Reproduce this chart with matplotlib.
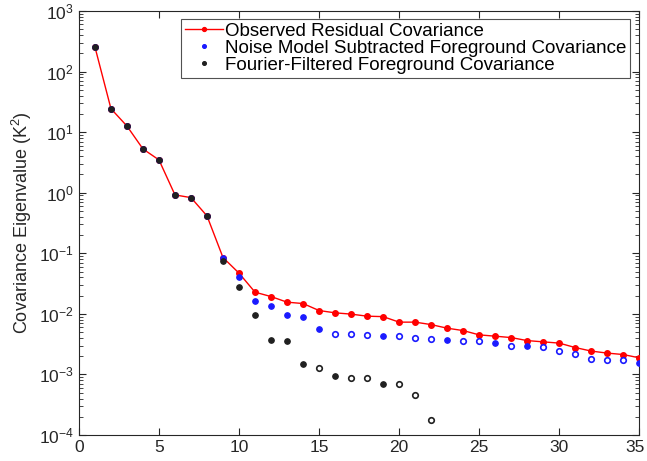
import numpy as np
import matplotlib
matplotlib.use("Agg")
import matplotlib.pyplot as plt
import matplotlib.transforms as mtransforms

plt.rcParams['font.family'] = ['Liberation Sans', 'DejaVu Sans']
plt.rcParams['mathtext.fontset'] = 'custom'
plt.rcParams['mathtext.rm'] = 'Liberation Sans'
plt.rcParams['mathtext.it'] = 'Liberation Sans:italic'
plt.rcParams['mathtext.bf'] = 'Liberation Sans:bold'

# Eigenvalue index
idx_obs = list(range(1, 36))
idx_noise = list(range(1, 36))
idx_fourier = list(range(1, 23))

# Observed residual covariance eigenvalues (K^2)
observed = [255, 24.4, 12.6, 5.28, 3.48, 0.92, 0.83, 0.414, 0.085, 0.047,
            0.0228, 0.0193, 0.0156, 0.0148, 0.01135, 0.0104, 0.0099, 0.00916, 0.0090, 0.0073,
            0.0073, 0.00665, 0.0058, 0.0053, 0.0045, 0.00428, 0.00406, 0.00362, 0.00345, 0.00329,
            0.00278, 0.00243, 0.00225, 0.00213, 0.00188]

# Noise-model-subtracted foreground covariance (negative values plotted as open circles)
noise_sub = [255, 24.4, 12.6, 5.28, 3.48, 0.90, 0.83, 0.41, 0.084, 0.040,
             0.0162, 0.0134, 0.00953, 0.0090, 0.0056, -0.00462, -0.00462, -0.00445, 0.00429, -0.00426,
             -0.00406, -0.00387, 0.00368, -0.00355, -0.00358, 0.00329, -0.00297, 0.00297, -0.00285, -0.00248,
             -0.00219, -0.00183, -0.00170, -0.00170, 0.00155]

# Fourier-filtered foreground covariance (negative values plotted as open circles)
fourier = [255, 24.4, 12.6, 5.28, 3.48, 0.92, 0.83, 0.41, 0.075, 0.028,
           0.0094, 0.00372, 0.00358, 0.00148, -0.0013, 0.00095, -0.00088, -0.00088, 0.0007, -0.0007,
           -0.00045, -0.000178]

fig = plt.figure(figsize=(6.47, 4.61), dpi=100)
ax = fig.add_axes([0.122, 0.0564, 0.866, 0.9197])

RED = '#ff0000'
BLUE = '#1a1aff'
BLACK = '#202020'
ms = 4

ax.plot(idx_obs, observed, '-', color=RED, lw=1.0, marker='o', ms=ms,
        mfc=RED, mec=RED, label='Observed Residual Covariance', zorder=3)

def plot_signed(xs, vals, color, label, z):
    xs = np.asarray(xs)
    vals = np.asarray(vals, dtype=float)
    pos = vals > 0
    ax.plot(xs[pos], vals[pos], 'o', ms=ms, mfc=color, mec=color, mew=0.8,
            label=label, zorder=z, ls='none')
    ax.plot(xs[~pos], -vals[~pos], 'o', ms=ms, mfc='white', mec=color, mew=1.2,
            zorder=z, ls='none')

plot_signed(idx_noise, noise_sub, BLUE, 'Noise Model Subtracted Foreground Covariance', 4)
plot_signed(idx_fourier, fourier, BLACK, 'Fourier-Filtered Foreground Covariance', 5)

ax.set_yscale('log')
ax.set_xlim(0, 35)
ax.set_ylim(1e-4, 1e3)
ax.set_xticks([0, 5, 10, 15, 20, 25, 30, 35])
ax.set_yticks([1e-4, 1e-3, 1e-2, 1e-1, 1e0, 1e1, 1e2, 1e3])

axc = '#262626'
for s in ax.spines.values():
    s.set_color(axc)
    s.set_linewidth(0.8)
ax.tick_params(which='both', direction='in', top=True, right=True, colors=axc,
               labelsize=12.5, labelcolor='#262626')
ax.tick_params(which='major', length=5, width=0.8)
ax.tick_params(which='minor', length=3, width=0.6)
ax.set_ylabel('Covariance Eigenvalue (K$^2$)', fontsize=13, color='#262626', labelpad=4)

# nudge the last x tick label so it stays inside the figure
last = ax.get_xticklabels()[-1]
last.set_transform(last.get_transform() +
                   mtransforms.ScaledTranslation(-4 / 100, 0, fig.dpi_scale_trans))

leg = ax.legend(loc='upper right', bbox_to_anchor=(0.983, 0.982), fontsize=13.5,
                frameon=True, fancybox=False, borderpad=0.2, labelspacing=0.0,
                handlelength=2.0, handletextpad=0.1, borderaxespad=0.0,
                markerscale=0.7)
leg.get_frame().set_edgecolor('#262626')
leg.get_frame().set_linewidth(0.8)

fig.savefig('out.png', dpi=100)
